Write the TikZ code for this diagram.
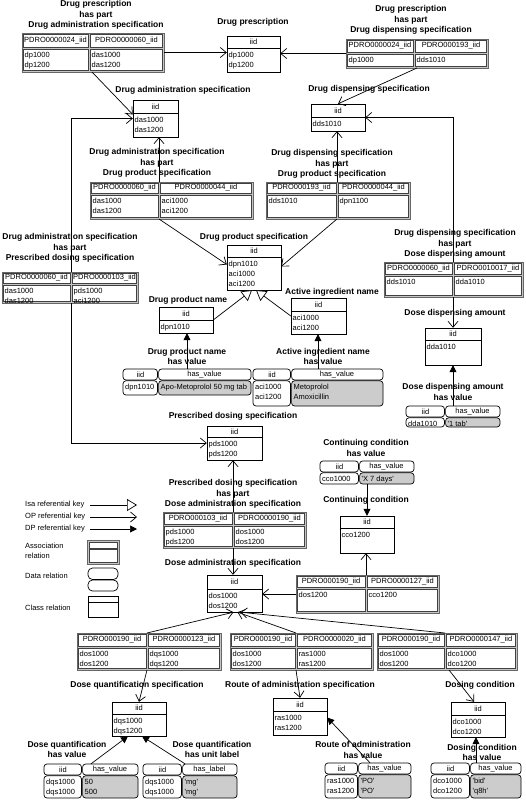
\documentclass[tikz,border=0pt]{standalone}
\usepackage{fontspec}
\setmainfont{Liberation Sans}
\usetikzlibrary{arrows.meta,fit}
\newcommand{\sq}{\textquotesingle}
\tikzset{
  cellt/.style={font=\fontsize{7.5}{10}\selectfont, inner sep=0pt},
  lbl/.style={font=\bfseries\fontsize{8.5}{10.5}\selectfont, align=center, inner sep=0pt},
  op/.style={-{Straight Barb[length=6pt,width=10pt]}, line width=0.7pt},
  dp/.style={-{Triangle[length=7pt,width=7pt]}, line width=0.7pt},
  isa/.style={-{Triangle[open,length=10pt,width=12pt,fill=white]}, line width=0.7pt},
  clsline/.style={line width=0.8pt},
  asframe/.style={draw=gray!80!black, fill=gray!45, line width=0.5pt},
  ascell/.style={draw=black!75, fill=white, line width=0.5pt},
  dcell/.style={draw=black, rounded corners=3pt, line width=0.7pt},
  fitbox/.style={inner sep=0pt},
}
% name x1 y1 x2 ysep y2 body
\newcommand{\clsbox}[7]{%
  \draw[clsline, fill=white] (#2,#3) rectangle (#4,#6);
  \draw[clsline] (#2,#5) -- (#4,#5);
  \node[fitbox, fit={(#2,#3) (#4,#6)}] (#1) {};
  \node[cellt] (#1-h) at ({(#2+#4)/2},{(#3+#5)/2}) {iid};
  \node[cellt, anchor=north west, align=left] (#1-b) at ({#2+1.5},{#5+4}) {#7};
}
% name x1 y1 xs x2 ysep y2 h1 h2
\newcommand{\assoctab}[9]{%
  \path[asframe] (#2,#3) rectangle (#5,#7);
  \path[ascell] ({#2+1.5},{#3+1.5}) rectangle ({#4-0.8},{#6-0.8});
  \path[ascell] ({#4+0.8},{#3+1.5}) rectangle ({#5-1.5},{#6-0.8});
  \path[ascell] ({#2+1.5},{#6+0.8}) rectangle ({#4-0.8},{#7-1.5});
  \path[ascell] ({#4+0.8},{#6+0.8}) rectangle ({#5-1.5},{#7-1.5});
  \node[fitbox, fit={(#2,#3) (#5,#7)}] (#1) {};
  \node[cellt] (#1-h1) at ({(#2+#4)/2},{(#3+#6)/2}) {#8};
  \node[cellt] (#1-h2) at ({(#4+#5)/2},{(#3+#6)/2}) {#9};
  \coordinate (#1-t) at (#4,#3);
  \coordinate (#1-s) at (#4,#7);
  \coordinate (#1-b1) at ({#2+2.5},{#6+4});
  \coordinate (#1-b2) at ({#4+2.5},{#6+4});
}
% name x1 y1 xs x2 y2 hdr2 body1 body2
\newcommand{\datatab}[9]{%
  \path[dcell, fill=white] (#2,#3) rectangle ({#4-0.6},{#3+11});
  \path[dcell, fill=white] ({#4+0.6},#3) rectangle (#5,{#3+11});
  \path[dcell, fill=white] (#2,{#3+11.8}) rectangle ({#4-0.6},#6);
  \path[dcell, fill=gray!40] ({#4+0.6},{#3+11.8}) rectangle (#5,#6);
  \node[fitbox, fit={(#2,#3) (#5,#6)}] (#1) {};
  \node[cellt] (#1-h1) at ({(#2+#4)/2},{#3+5.5}) {iid};
  \node[cellt] (#1-h2) at ({(#4+#5)/2},{#3+5.5}) {#7};
  \node[cellt, anchor=north west, align=left] (#1-v1) at ({#2+2},{#3+15}) {#8};
  \node[cellt, anchor=north west, align=left] (#1-v2) at ({#4+2.5},{#3+15}) {#9};
}
\begin{document}
\begin{tikzpicture}[x=1pt,y=-1pt]
\useasboundingbox (0,0) rectangle (526,800);
\fill[white] (0,0) rectangle (526,800);

% ---------- class relations
\clsbox{dp}{227}{36}{280}{48}{72}{dp1000\\dp1200}
\clsbox{das}{133}{100}{178}{113}{137}{das1000\\das1200}
\clsbox{dds}{311}{104}{365}{117}{131}{dds1010}
\clsbox{dps}{227}{245}{281}{257}{290}{dpn1010\\aci1000\\aci1200}
\clsbox{dpn}{159}{307}{213}{320}{333}{dpn1010}
\clsbox{ain}{291}{298}{346}{311}{334}{aci1000\\aci1200}
\clsbox{dda}{425}{328}{481}{340}{365}{dda1010}
\clsbox{pds}{207}{426}{262}{437}{460}{pds1000\\pds1200}
\clsbox{cco}{340}{516}{394}{528}{553}{cco1200}
\clsbox{dos}{207}{575}{262}{589}{612}{dos1000\\dos1200}
\clsbox{dqs}{112}{702}{166}{714}{736}{dqs1000\\dqs1200}
\clsbox{ras}{273}{698}{327}{711}{735}{ras1000\\ras1200}
\clsbox{dco}{451}{702}{505}{715}{737}{dco1000\\dco1200}

% ---------- association relations
\assoctab{a1}{22}{33}{89}{164}{48}{72}{PDRO0000024\_iid}{PDRO0000060\_iid}
\node[cellt, anchor=north west, align=left] (a1-v1) at (a1-b1) {dp1000\\dp1200};
\node[cellt, anchor=north west, align=left] (a1-v2) at (a1-b2) {das1000\\das1200};
\assoctab{a2}{346}{39}{414}{488}{53}{68}{PDRO0000024\_iid}{PDRO000193\_iid}
\node[cellt, anchor=north west, align=left] (a2-v1) at (a2-b1) {dp1000};
\node[cellt, anchor=north west, align=left] (a2-v2) at (a2-b2) {dds1010};
\assoctab{a3}{90}{182}{159}{253}{194}{219}{PDRO0000060\_iid}{PDRO0000044\_iid}
\node[cellt, anchor=north west, align=left] (a3-v1) at (a3-b1) {das1000\\das1200};
\node[cellt, anchor=north west, align=left] (a3-v2) at (a3-b2) {aci1000\\aci1200};
\assoctab{a4}{266}{182}{337}{410}{194}{219}{PDRO000193\_iid}{PDRO0000044\_iid}
\node[cellt, anchor=north west, align=left] (a4-v1) at (a4-b1) {dds1010};
\node[cellt, anchor=north west, align=left] (a4-v2) at (a4-b2) {dpn1100};
\assoctab{a5}{2}{272}{71}{138}{284}{303}{PDRO0000060\_iid}{PDRO0000103\_iid}
\node[cellt, anchor=north west, align=left] (a5-v1) at (a5-b1) {das1000\\das1200};
\node[cellt, anchor=north west, align=left] (a5-v2) at (a5-b2) {pds1000\\aci1200};
\assoctab{a6}{384}{262}{453}{523}{275}{297}{PDRO0000060\_iid}{PDRO0010017\_iid}
\node[cellt, anchor=north west, align=left] (a6-v1) at (a6-b1) {dds1010};
\node[cellt, anchor=north west, align=left] (a6-v2) at (a6-b2) {dda1010};
\assoctab{a7}{163}{512}{233}{306}{525}{548}{PDRO000103\_iid}{PDRO0000190\_iid}
\node[cellt, anchor=north west, align=left] (a7-v1) at (a7-b1) {pds1000\\pds1200};
\node[cellt, anchor=north west, align=left] (a7-v2) at (a7-b2) {dos1000\\dos1200};
\assoctab{a8}{296}{575}{366}{439}{588}{613}{PDRO000190\_iid}{PDRO0000127\_iid}
\node[cellt, anchor=north west, align=left] (a8-v1) at (a8-b1) {dos1200};
\node[cellt, anchor=north west, align=left] (a8-v2) at (a8-b2) {cco1200};
\assoctab{a9}{77}{633}{147}{221}{647}{670}{PDRO000190\_iid}{PDRO0000123\_iid}
\node[cellt, anchor=north west, align=left] (a9-v1) at (a9-b1) {dos1000\\dos1200};
\node[cellt, anchor=north west, align=left] (a9-v2) at (a9-b2) {dqs1000\\dqs1200};
\assoctab{a10}{230}{633}{296}{373}{647}{670}{PDRO000190\_iid}{PDRO0000020\_iid}
\node[cellt, anchor=north west, align=left] (a10-v1) at (a10-b1) {dos1000\\dos1200};
\node[cellt, anchor=north west, align=left] (a10-v2) at (a10-b2) {ras1000\\ras1200};
\assoctab{a11}{377}{633}{445}{517}{647}{670}{PDRO000190\_iid}{PDRO0000147\_iid}
\node[cellt, anchor=north west, align=left] (a11-v1) at (a11-b1) {dos1000\\dos1200};
\node[cellt, anchor=north west, align=left] (a11-v2) at (a11-b2) {dco1000\\dco1200};

% ---------- data relations
\datatab{d1}{123}{369}{158}{251}{395}{has\_value}{dpn1010}{Apo-Metoprolol 50 mg tab}
\datatab{d2}{253}{369}{291}{383}{406}{has\_value}{aci1000\\aci1200}{Metoprolol\\Amoxicillin}
\datatab{d3}{406}{406}{445}{500}{427}{has\_value}{dda1010}{\sq1 tab\sq}
\datatab{d4}{320}{461}{359}{414}{484}{has\_value}{cco1000}{\sq X 7 days\sq}
\datatab{d5}{44}{764}{82}{138}{798}{has\_value}{dqs1000\\dqs1000}{50\\500}
\datatab{d6}{143}{764}{182}{237}{798}{has\_label}{dqs1000\\dqs1000}{\sq mg\sq\\\sq mg\sq}
\datatab{d7}{325}{763}{358}{411}{798}{has\_value}{ras1000\\ras1200}{\sq PO\sq\\\sq PO\sq}
\datatab{d8}{431}{763}{470}{521}{798}{has\_value}{dco1000\\dco1200}{\sq bid\sq\\\sq q8h\sq}

% ---------- labels
\node[lbl] (l1) at (96,15) {Drug prescription\\has part\\Drug administration specification};
\node[lbl] (l2) at (253,22) {Drug prescription};
\node[lbl] (l3) at (411,20) {Drug prescription\\has part\\Drug dispensing specification};
\node[lbl] (l4) at (183,90) {Drug administration specification};
\node[lbl] (l5) at (369,89) {Drug dispensing specification};
\node[lbl] (l6) at (157,163) {Drug administration specification\\has part\\Drug product specification};
\node[lbl] (l7) at (332,164) {Drug dispensing specification\\has part\\Drug product specification};
\node[lbl] (l8) at (455,244) {Drug dispensing specification\\has part\\Dose dispensing amount};
\node[lbl] (l9) at (70,248) {Drug administration specification\\has part\\Prescribed dosing specification};
\node[lbl] (l10) at (254,237) {Drug product specification};
\node[lbl] (l11) at (188,300) {Drug product name};
\node[lbl] (l12) at (332,292) {Active ingredient name};
\node[lbl] (l13) at (187,356.5) {Drug product name\\has value};
\node[lbl] (l14) at (323,356.5) {Active ingredient name\\has value};
\node[lbl] (l15) at (455,313) {Dose dispensing amount};
\node[lbl] (l16) at (453,392) {Dose dispensing amount\\has value};
\node[lbl] (l17) at (233,416) {Prescribed dosing specification};
\node[lbl] (l18) at (366,448) {Continuing condition\\has value};
\node[lbl] (l19) at (233,494) {Prescribed dosing specification\\has part\\Dose administration specification};
\node[lbl] (l20) at (366,500) {Continuing condition};
\node[lbl] (l21) at (233,563) {Dose administration specification};
\node[lbl] (l22) at (137,685) {Dose quantification specification};
\node[lbl] (l23) at (300,685) {Route of administration specification};
\node[lbl] (l24) at (480,685) {Dosing condition};
\node[lbl] (l25) at (67,749.5) {Dose quantification\\has value};
\node[lbl] (l26) at (212,749.5) {Dose quantification\\has unit label};
\node[lbl] (l27) at (363,750) {Route of administration\\has value};
\node[lbl] (l28) at (482,752.5) {Dosing condition\\has value};

% ---------- connectors
\draw[op] (a1.east) -- (a1.east -| dp.west);
\draw[op] ([xshift=3pt]a1-s) -- ([yshift=4pt]das.west);
\draw[op] (a2.west) -- (a2.west -| dp.east);
\draw[op] ([xshift=3pt]a2-s) -- (dds.north);
\draw[op] (a6-t) |- (dds.east);
\draw[op] (a3-t) -- (a3-t |- das.south);
\draw[op] (a3-s) -- ([yshift=3pt]dps.west);
\draw[op] (a4-t) -- (a4-t |- dds.south);
\draw[op] (a4-s) -- ([yshift=1pt]dps.east);
\draw[op] (a5-t) |- (das.west);
\draw[op] (a5-s) |- (pds.west);
\draw[isa] (dpn.east) -- ([xshift=-2pt]dps.south);
\draw[isa] (ain.west) -- ([xshift=2pt]dps.south);
\draw[dp] (d1.north) -- (d1.north |- dpn.south);
\draw[dp] (d2.north) -- (d2.north |- ain.south);
\draw[op] (a6-s) -- (a6-s |- dda.north);
\draw[dp] (d3.north) -- (d3.north |- dda.south);
\draw[op] (a7-t) -- (a7-t |- pds.south);
\draw[op] (a7-s) -- (a7-s |- dos.north);
\draw[dp] (d4.south) -- (d4.south |- cco.north);
\draw[op] (a8-t) -- (a8-t |- cco.south);
\draw[op] (a8.west) -- (a8.west -| dos.east);
\draw[op] (a9-t) -- ([xshift=-1pt]dos.south);
\draw[op] (a10-t) -- ([xshift=3pt]dos.south);
\draw[op] (a11-t) -- ([xshift=6pt]dos.south);
\draw[op] (a9-s) -- (dqs.north);
\draw[op] (a10-s) -- (ras.north);
\draw[op] ([xshift=4pt]a11-s) -- ([xshift=-4pt]dco.north);
\draw[dp] (d5.north) -- ([xshift=-11pt]dqs.south);
\draw[dp] ([xshift=-5pt]d6.north) -- ([xshift=3pt]dqs.south);
\draw[dp] ([xshift=2pt]d7.north) -- ([yshift=-1pt]ras.east);
\draw[dp] (d8.north) -- (d8.north |- dco.south);

% ---------- legend
\node[cellt, anchor=west] (lg1) at (25,505) {Isa referential key};
\node[cellt, anchor=west] (lg2) at (25,517) {OP referential key};
\node[cellt, anchor=west] (lg3) at (25,529) {DP referential key};
\coordinate (lg1a) at (90,505); \coordinate (lg1b) at (137,505);
\coordinate (lg2a) at (90,517); \coordinate (lg2b) at (137,517);
\coordinate (lg3a) at (90,529); \coordinate (lg3b) at (137,529);
\draw[isa] (lg1a) -- (lg1b);
\draw[op] (lg2a) -- (lg2b);
\draw[dp] (lg3a) -- (lg3b);
\node[cellt, anchor=north west, align=left] (lg4) at (25,543) {Association\\relation};
\path[asframe] (87,540) rectangle (119,564);
\path[ascell] (89,542) rectangle (117,548);
\path[ascell] (89,549.5) rectangle (117,562);
\node[fitbox, fit={(87,540) (119,564)}] (lgas) {};
\node[cellt, anchor=west] (lg5) at (25,576) {Data relation};
\path[dcell, fill=white, rounded corners=4.5pt] (88,568) rectangle (118,579.5);
\path[dcell, fill=white, rounded corners=4.5pt] (88,580) rectangle (118,591);
\node[fitbox, fit={(88,568) (118,591)}] (lgdata) {};
\node[cellt, anchor=west] (lg6) at (25,608) {Class relation};
\draw[clsline] (88,596) rectangle (118,617);
\draw[clsline] (88,602) -- (118,602);
\node[fitbox, fit={(88,596) (118,617)}] (lgcls) {};
\end{tikzpicture}
\end{document}
